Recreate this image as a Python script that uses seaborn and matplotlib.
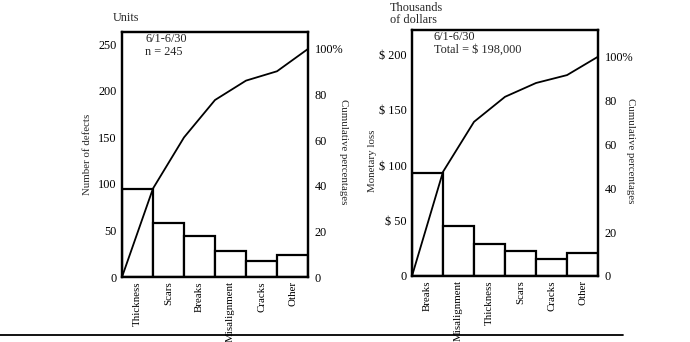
import numpy as np
import pandas as pd
import matplotlib
matplotlib.use('Agg')
import matplotlib.pyplot as plt
from matplotlib.lines import Line2D
import seaborn as sns

# Defects by type, counted 6/1-6/30
defect_types = ['Thickness', 'Scars', 'Breaks', 'Misalignment', 'Cracks', 'Other']
defect_counts = [95, 58, 44, 28, 17, 24]
defect_cum_pct = [38.8, 61.2, 77.6, 86.1, 90.2, 100]
defect_total = 245

# Monetary loss by defect type, thousands of dollars
loss_types = ['Breaks', 'Misalignment', 'Thickness', 'Scars', 'Cracks', 'Other']
loss_values = [93, 45, 29, 23, 15, 21]
loss_cum_pct = [47.5, 70.3, 81.7, 88.0, 91.6, 100]
loss_total = 198

sns.set_style('white')
plt.rcParams['font.family'] = ['Liberation Serif', 'DejaVu Serif']
plt.rcParams['axes.linewidth'] = 1.5

fig = plt.figure(figsize=(6.9, 3.42), dpi=100)


def pareto(rect, cats, vals, cum, total, ymax, yticks, yticklabels, ylabel,
           unit_text, note, ylabel_pos, cum_label_pos):
    ax = fig.add_axes(rect)
    df = pd.DataFrame({'cat': cats, 'val': vals})
    sns.barplot(data=df, x='cat', y='val', ax=ax, color='white',
                edgecolor='black', linewidth=1.6, width=1.0, saturation=1)
    ax.set_xlim(-0.5, len(cats) - 0.5)
    ax.set_ylim(0, ymax)
    ax.set_yticks(yticks)
    ax.set_yticklabels(yticklabels, fontsize=8.8)
    ax.set_xlabel('')
    ax.set_ylabel(ylabel, fontsize=7.8)
    ax.yaxis.set_label_coords(*ylabel_pos)
    ax.tick_params(axis='both', length=0, pad=4, colors='black')
    ax.tick_params(axis='x', pad=3)
    ax.set_xticks(range(len(cats)))
    ax.set_xticklabels(cats, rotation=90, fontsize=7.8, va='top')
    for s in ax.spines.values():
        s.set_color('black')
        s.set_linewidth(1.6)

    # cumulative percentage curve on the right-hand scale
    ax2 = ax.twinx()
    edges = np.arange(len(cats) + 1) - 0.5
    sns.lineplot(x=edges, y=[0] + list(cum), ax=ax2, color='black',
                 linewidth=1.3, sort=False)
    ax2.set_ylim(0, ymax / total * 100)
    ax2.set_xlim(-0.5, len(cats) - 0.5)
    pct_ticks = [0, 20, 40, 60, 80, 100]
    ax2.set_yticks(pct_ticks)
    ax2.set_yticklabels([str(t) for t in pct_ticks[:-1]] + ['100%'], fontsize=8.8)
    ax2.tick_params(axis='y', length=0, pad=5, colors='black')
    ax2.set_ylabel('Cumulative percentages', rotation=270, fontsize=7.8, va='center')
    ax2.yaxis.set_label_coords(*cum_label_pos)
    for s in ax2.spines.values():
        s.set_color('black')
        s.set_linewidth(1.6)

    ax.text(unit_text[0], unit_text[1], unit_text[2], transform=ax.transAxes,
            fontsize=8.8, ha='left', va='center', linespacing=1.0)
    ax2.text(note[0], note[1], note[2], transform=ax.transAxes,
             fontsize=8.8, ha='left', va='top', linespacing=1.1)
    return ax


pareto([0.1768, 0.190, 0.2696, 0.716], defect_types, defect_counts,
       defect_cum_pct, defect_total, 263,
       [0, 50, 100, 150, 200, 250], ['0', '50', '100', '150', '200', '250'],
       'Number of defects', (-0.05, 1.057, 'Units'),
       (0.124, 0.997, '6/1-6/30\nn = %d' % defect_total),
       (-0.16, 0.5), (1.19, 0.51))

pareto([0.5971, 0.193, 0.2696, 0.719], loss_types, loss_values,
       loss_cum_pct, loss_total, 222,
       [0, 50, 100, 150, 200], ['0', '$ 50', '$ 100', '$ 150', '$ 200'],
       'Monetary loss', (-0.12, 1.065, 'Thousands\nof dollars'),
       (0.118, 0.997, '6/1-6/30\nTotal = $ {:,}'.format(loss_total * 1000)),
       (-0.19, 0.47), (1.175, 0.51))

# rule across the bottom of the figure
fig.add_artist(Line2D([0, 0.903], [0.021, 0.021], color='black', linewidth=1.3))

fig.savefig('out.png', dpi=100, facecolor='white')
